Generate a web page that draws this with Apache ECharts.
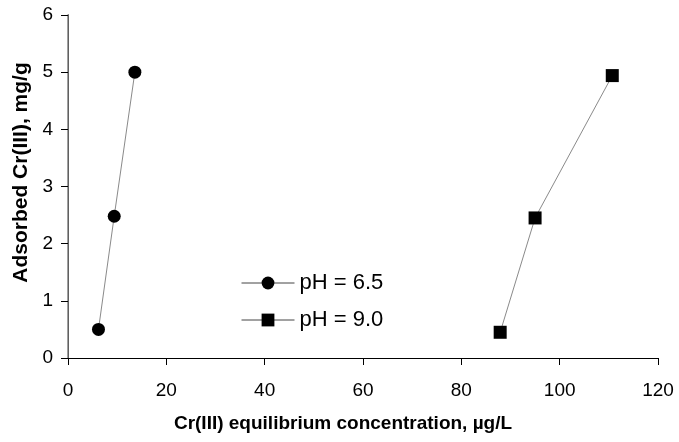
<!DOCTYPE html>
<html>
<head>
<meta charset="utf-8">
<script src="https://cdn.jsdelivr.net/npm/echarts@6/dist/echarts.min.js"></script>
<style>html,body{margin:0;padding:0;background:#fff}#c{width:679px;height:442px}</style>
</head>
<body>
<div id="c"></div>
<script>
var seriesNames = ['pH = 6.5', 'pH = 9.0'];
var ph65X = [6.2, 9.4, 13.6];
var ph65Y = [0.5, 2.48, 5.0];
var ph90X = [87.9, 95.0, 110.7];
var ph90Y = [0.45, 2.45, 4.94];
var xTitle = 'Cr(III) equilibrium concentration, µg/L';
var yTitle = 'Adsorbed Cr(III), mg/g';

function pairs(xs, ys) { return xs.map(function (x, i) { return [x, ys[i]]; }); }

var font = 'Arial, "Liberation Sans", sans-serif';
var chart = echarts.init(document.getElementById('c'), null, {renderer: 'canvas'});
chart.setOption({
  animation: false,
  backgroundColor: '#fff',
  grid: {left: 68, right: 21, top: 15, bottom: 84},
  legend: {
    orient: 'vertical', left: 241, top: 272, padding: 0,
    itemWidth: 53, itemHeight: 16, itemGap: 15,
    lineStyle: {color: '#444', width: 1},
    textStyle: {fontFamily: font, fontSize: 22, lineHeight: 22, color: '#000', padding: [0, 0, 0, 0]},
    data: seriesNames
  },
  xAxis: [{
    type: 'value', min: 0, max: 120, interval: 20,
    name: xTitle, nameLocation: 'middle', nameGap: 56,
    nameTextStyle: {fontFamily: font, fontSize: 19, fontWeight: 'bold', color: '#000', padding: [0, 40, 0, 0]},
    axisLine: {show: true, onZero: false, lineStyle: {color: '#000', width: 1}},
    axisTick: {show: true, inside: false, length: 7, lineStyle: {color: '#000'}},
    axisLabel: {fontFamily: font, fontSize: 19, color: '#000', margin: 23},
    splitLine: {show: false}
  }, {
    type: 'value', min: 0, max: 120, position: 'top',
    axisLine: {show: true, lineStyle: {color: '#000', width: 1}},
    axisTick: {show: false}, axisLabel: {show: false}, splitLine: {show: false}
  }],
  yAxis: [{
    type: 'value', min: 0, max: 6, interval: 1,
    name: yTitle, nameLocation: 'middle', nameGap: 36,
    nameTextStyle: {fontFamily: font, fontSize: 21, fontWeight: 'bold', color: '#000', padding: [0, 0, 0, 28]},
    axisLine: {show: true, onZero: false, lineStyle: {color: '#000', width: 1}},
    axisTick: {show: true, inside: false, length: 7, lineStyle: {color: '#000'}},
    axisLabel: {fontFamily: font, fontSize: 19, color: '#000', margin: 15},
    splitLine: {show: false}
  }, {
    type: 'value', min: 0, max: 6, position: 'right',
    axisLine: {show: true, lineStyle: {color: '#808080', width: 1.5}},
    axisTick: {show: false}, axisLabel: {show: false}, splitLine: {show: false}
  }],
  series: [{
    name: seriesNames[0], type: 'line', data: pairs(ph65X, ph65Y),
    symbol: 'circle', symbolSize: 13,
    lineStyle: {color: '#8a8a8a', width: 1},
    itemStyle: {color: '#000'}
  }, {
    name: seriesNames[1], type: 'line', data: pairs(ph90X, ph90Y),
    symbol: 'rect', symbolSize: 13,
    lineStyle: {color: '#8a8a8a', width: 1},
    itemStyle: {color: '#000'}
  }]
});
</script>
</body>
</html>
